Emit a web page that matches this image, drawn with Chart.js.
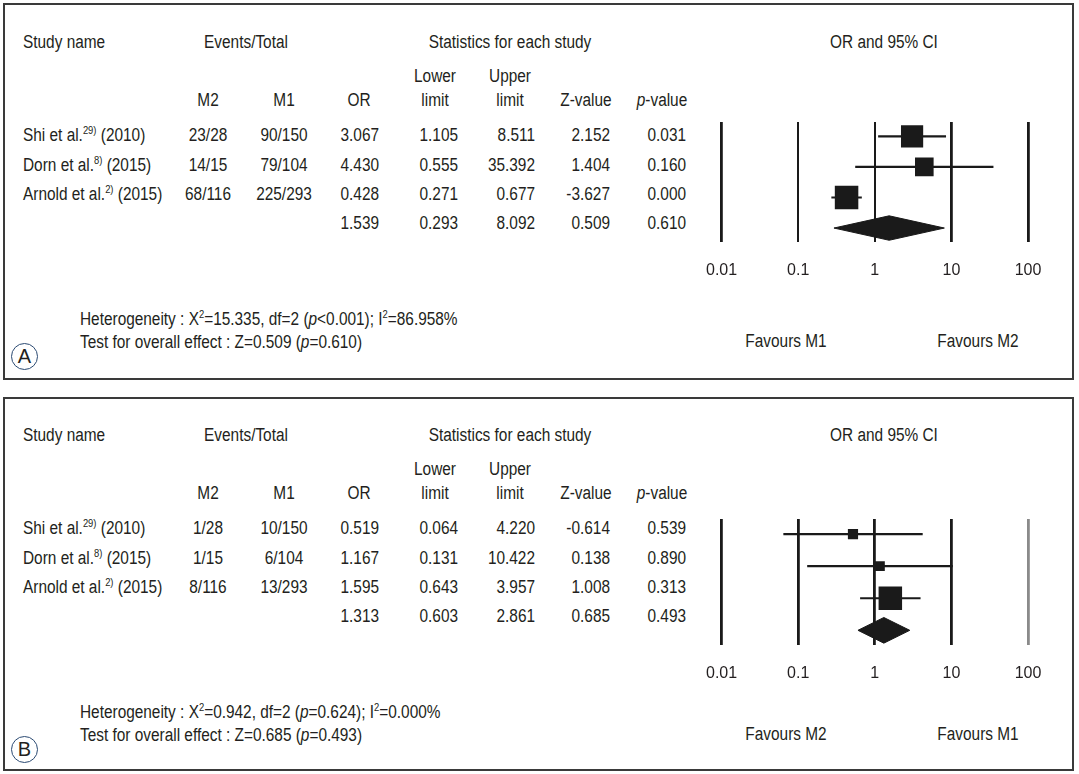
<!DOCTYPE html>
<html>
<head>
<meta charset="utf-8">
<script src="https://cdn.jsdelivr.net/npm/chart.js@4.4.1/dist/chart.umd.min.js"></script>
<style>
  body { margin: 0; background: #fff; width: 1079px; height: 774px; position: relative; overflow: hidden;
         font-family: "Liberation Sans", Arial, sans-serif; font-size: 18px; color: #231f20; }
  .panel { position: absolute; left: 3px; width: 1071px; border: 2px solid #3a3a3a; box-sizing: border-box; }
  .t { position: absolute; white-space: nowrap; line-height: 1; }
  .sup { font-size: 11px; position: relative; top: -7px; }
  .circ { position: absolute; width: 27px; height: 27px; border: 1.5px solid #2b4a72; border-radius: 50%;
          box-sizing: border-box; text-align: center; line-height: 25px; font-size: 20px; }
  canvas { position: absolute; }
</style>
</head>
<body>
<div class="panel" style="top:3px;height:377px"></div>
<div class="panel" style="top:397px;height:374px"></div>
<canvas id="plotA" width="360" height="180" style="left:700px;top:100px"></canvas>
<canvas id="plotB" width="360" height="186" style="left:700px;top:497px"></canvas>

<script>
// study labels
let studyNames = ['Shi et al.', 'Dorn et al.', 'Arnold et al.'];
let studyRefs = ['29)', '8)', '2)'];
let studyYears = ['(2010)', '(2015)', '(2015)'];
let tickValues = [0.01, 0.1, 1, 10, 100];

// panel A (last entry of each stat list = pooled result)
let eventsM2A = ['23/28', '14/15', '68/116'];
let eventsM1A = ['90/150', '79/104', '225/293'];
let orA = [3.067, 4.430, 0.428, 1.539];
let lowerA = [1.105, 0.555, 0.271, 0.293];
let upperA = [8.511, 35.392, 0.677, 8.092];
let zA = [2.152, 1.404, -3.627, 0.509];
let pA = [0.031, 0.160, 0.000, 0.610];
let weightsA = [35.4, 24.9, 39.7];

// panel B
let eventsM2B = ['1/28', '1/15', '8/116'];
let eventsM1B = ['10/150', '6/104', '13/293'];
let orB = [0.519, 1.167, 1.595, 1.313];
let lowerB = [0.064, 0.131, 0.643, 0.603];
let upperB = [4.220, 10.422, 3.957, 2.861];
let zB = [-0.614, 0.138, 1.008, 0.685];
let pB = [0.539, 0.890, 0.313, 0.493];
let weightsB = [13.8, 12.7, 73.5];

let FONT = '"Liberation Sans", Arial, sans-serif';
let SQUEEZE = 0.855;   // reference uses a condensed face

function put(html, x, y, align) {
    /* places a text element, y is the vertical centre */
    let el = document.createElement('div');
    el.className = 't';
    el.innerHTML = html;
    el.style.left = x + 'px';
    el.style.top = y + 'px';
    let dx = align === 'center' ? '-50%' : (align === 'right' ? '-100%' : '0');
    el.style.transformOrigin = (align || 'left') + ' center';
    el.style.transform = 'translate(' + dx + ',-50%) scaleX(' + SQUEEZE + ')';
    document.body.appendChild(el);
}

function drawTable(top, m2, m1, or, lower, upper, z, p, hetText, testText, favLeft, favRight, letter) {
    put('Study name', 23, top + 42, 'left');
    put('Events/Total', 246, top + 42, 'center');
    put('Statistics for each study', 510, top + 42, 'center');
    put('OR and 95% CI', 884, top + 42, 'center');
    put('Lower', 435, top + 76, 'center');
    put('Upper', 510, top + 76, 'center');
    put('M2', 208, top + 100, 'center');
    put('M1', 284, top + 100, 'center');
    put('OR', 359, top + 100, 'center');
    put('limit', 435, top + 100, 'center');
    put('limit', 510, top + 100, 'center');
    put('Z-value', 586, top + 100, 'center');
    put('<i>p</i>-value', 662, top + 100, 'center');

    let rowY = [135, 165, 194, 223];
    for (let i = 0; i < 4; i++) {
        let y = top + rowY[i];
        if (i < 3) {
            put(studyNames[i] + '<span class="sup">' + studyRefs[i] + '</span> ' + studyYears[i], 23, y, 'left');
            put(m2[i], 208, y, 'center');
            put(m1[i], 284, y, 'center');
        }
        put(or[i].toFixed(3), 379, y, 'right');
        put(lower[i].toFixed(3), 458, y, 'right');
        put(upper[i].toFixed(3), 535, y, 'right');
        put(z[i].toFixed(3), 610, y, 'right');
        put(p[i].toFixed(3), 686, y, 'right');
    }
    put(hetText, 80, top + 319, 'left');
    put(testText, 80, top + 342, 'left');
    put(favLeft, 786, top + 341, 'center');
    put(favRight, 978, top + 341, 'center');

    let c = document.createElement('div');
    c.className = 'circ';
    c.textContent = letter;
    c.style.left = '11px';
    c.style.top = (top + 343) + 'px';
    document.body.appendChild(c);
}

function addForest(id, or, lower, upper, weights, gridWidths, gridColors) {
    let ink = '#1a1a1a';
    let maxSide = 23.5;
    let wmax = Math.max.apply(null, weights);
    let half = 0.4;   // diamond half height in row units
    let datasets = [];

    datasets.push({
        type: 'scatter',
        data: weights.map(function(w, i) { return {x: or[i], y: i}; }),
        pointStyle: 'rect',
        pointRadius: weights.map(function(w) { return maxSide * Math.sqrt(w / wmax) / Math.SQRT2; }),
        backgroundColor: ink,
        borderWidth: 0,
        order: 0
    });
    weights.forEach(function(w, i) {
        datasets.push({
            type: 'line',
            data: [{x: lower[i], y: i}, {x: upper[i], y: i}],
            borderColor: ink,
            borderWidth: 2.2,
            pointRadius: 0,
            order: 1
        });
    });
    let k = weights.length;
    datasets.push({
        type: 'line',
        data: [{x: lower[k], y: k}, {x: or[k], y: k - half}, {x: upper[k], y: k},
               {x: or[k], y: k + half}, {x: lower[k], y: k}],
        borderColor: ink,
        backgroundColor: ink,
        borderWidth: 1,
        pointRadius: 0,
        fill: 'shape',
        order: 0
    });

    new Chart(document.getElementById(id), {
        type: 'scatter',
        data: {datasets: datasets},
        options: {
            responsive: false,
            animation: false,
            events: [],
            layout: {padding: {left: 21.6, right: 32, top: 22, bottom: 0}},
            plugins: {legend: {display: false}, tooltip: {enabled: false}},
            scales: {
                x: {
                    type: 'logarithmic',
                    min: 0.01,
                    max: 100,
                    border: {display: false},
                    afterBuildTicks: function(axis) {
                        axis.ticks = tickValues.map(function(v) { return {value: v}; });
                    },
                    grid: {
                        drawTicks: true,
                        tickLength: 18.4,
                        tickColor: 'rgba(0,0,0,0)',
                        lineWidth: function(ctx) { return gridWidths[ctx.index]; },
                        color: function(ctx) { return gridColors[ctx.index]; }
                    },
                    ticks: {
                        padding: 0,
                        autoSkip: false,
                        maxRotation: 0,
                        color: '#231f20',
                        font: {family: FONT, size: 16},
                        callback: function(v) { return String(v); }
                    }
                },
                y: {type: 'linear', min: -0.47, max: 3.47, reverse: true, display: false}
            }
        }
    });
}

drawTable(0, eventsM2A, eventsM1A, orA, lowerA, upperA, zA, pA,
    'Heterogeneity : X<span class="sup">2</span>=15.335, df=2 (<i>p</i>&lt;0.001); I<span class="sup">2</span>=86.958%',
    'Test for overall effect : Z=0.509 (<i>p</i>=0.610)', 'Favours M1', 'Favours M2', 'A');
drawTable(393, eventsM2B, eventsM1B, orB, lowerB, upperB, zB, pB,
    'Heterogeneity : X<span class="sup">2</span>=0.942, df=2 (<i>p</i>=0.624); I<span class="sup">2</span>=0.000%',
    'Test for overall effect : Z=0.685 (<i>p</i>=0.493)', 'Favours M2', 'Favours M1', 'B');

addForest('plotA', orA, lowerA, upperA, weightsA,
    [2.8, 2, 2, 2.8, 2.8], ['#1a1a1a', '#1a1a1a', '#1a1a1a', '#1a1a1a', '#1a1a1a']);
addForest('plotB', orB, lowerB, upperB, weightsB,
    [2.8, 2.8, 2.8, 2.8, 2.8], ['#1a1a1a', '#1a1a1a', '#1a1a1a', '#1a1a1a', '#8a8a8a']);
</script>
</body>
</html>
